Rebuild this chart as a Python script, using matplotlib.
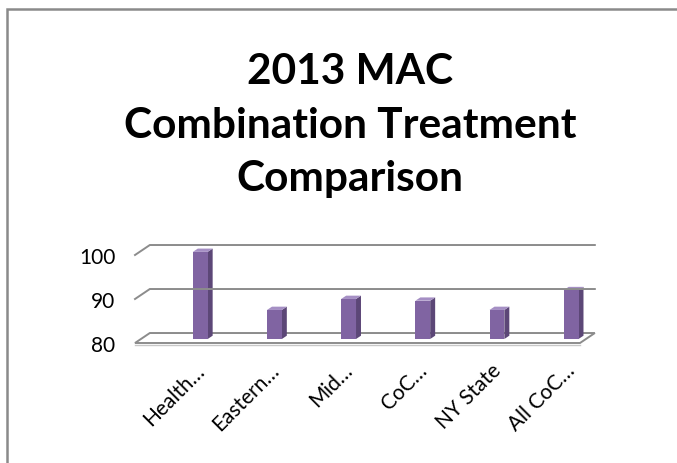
import matplotlib.pyplot as plt
from matplotlib.patches import Rectangle, Polygon

categories = ['Health…', 'Eastern…', 'Mid…', 'CoC…', 'NY State', 'All CoC…']
values = [99.8, 86.6, 89.1, 88.7, 86.6, 91.1]
yticks = [80, 90, 100]
title = '2013 MAC\nCombination Treatment\nComparison'

front = '#8064A2'
side = '#5C4777'
top = '#A58FC4'
grid = '#8C8C8C'

plt.rcParams['font.family'] = ['Lato', 'DejaVu Sans']

fig = plt.figure(figsize=(6.77, 4.64), dpi=100)
# chart border: only top and left edges fall inside the picture
fig.patches.append(Rectangle((7 / 677, -0.1), 1.2, 1 - 10 / 464 + 0.1,
                             transform=fig.transFigure, fill=False,
                             edgecolor='#8A8A8A', lw=1.8))

ax = fig.add_axes([135 / 677, 120 / 464, 445 / 677, 88 / 464])
xmin, xmax = -0.8, 5.2
ax.set_xlim(xmin, xmax)
ax.set_ylim(80, 100)
ax.patch.set_visible(False)
for s in ax.spines.values():
    s.set_visible(False)

# depth of the 3d box, in data units
DX, DY = 0.2, 2.27
# plane of the bars and bar depth
ox, oy = 0.08, 0.91
bdx, bdy = 0.067, 0.75
w = 0.2

# back walls / gridlines
for v in yticks[1:]:
    ax.plot([xmin, xmin + DX, xmax + DX], [v, v + DY, v + DY], color=grid,
            lw=1.4, clip_on=False, solid_joinstyle='miter')
# floor
ax.add_patch(Polygon([(xmin, 80), (xmax, 80), (xmax + DX, 80 + DY), (xmin + DX, 80 + DY)],
                     closed=True, facecolor='white', edgecolor=grid, lw=1.4, clip_on=False))
ax.plot([xmin, xmax], [79.6, 79.6], color='#C8C8C8', lw=1, clip_on=False)

for i, v in enumerate(values):
    x0 = i - w / 2 + ox
    x1 = i + w / 2 + ox
    b = 80 + oy
    t = v + oy
    ax.add_patch(Polygon([(x1, b), (x1 + bdx, b + bdy), (x1 + bdx, t + bdy), (x1, t)],
                         closed=True, facecolor=side, edgecolor='none', clip_on=False))
    ax.add_patch(Polygon([(x0, t), (x1, t), (x1 + bdx, t + bdy), (x0 + bdx, t + bdy)],
                         closed=True, facecolor=top, edgecolor='none', clip_on=False))
    ax.add_patch(Rectangle((x0, b), w, v - 80, facecolor=front, edgecolor='none', clip_on=False))

ax.set_yticks(yticks)
ax.set_yticklabels([str(t) for t in yticks], fontsize=15)
ax.tick_params(axis='y', length=0, pad=14)
ax.set_xticks(range(len(categories)))
ax.set_xticklabels(categories, rotation=45, ha='right', va='top',
                   rotation_mode='anchor', fontsize=15)
ax.tick_params(axis='x', length=0, pad=12)

fig.text(350 / 677, 1 - 126 / 464, title, ha='center', va='center', fontsize=30.5,
         fontweight='bold', linespacing=1.5)

fig.savefig('out.png', dpi=100)
